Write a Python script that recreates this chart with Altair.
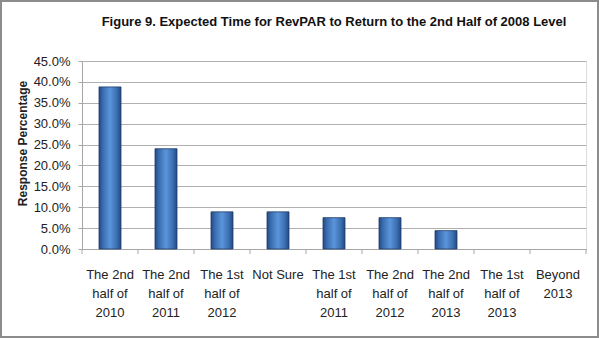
import altair as alt
import pandas as pd

title_text = "Figure 9. Expected Time for RevPAR to Return to the 2nd Half of 2008 Level"
categories = [
    "The 2nd|half of|2010",
    "The 2nd|half of|2011",
    "The 1st|half of|2012",
    "Not Sure",
    "The 1st|half of|2011",
    "The 2nd|half of|2012",
    "The 2nd|half of|2013",
    "The 1st|half of|2013",
    "Beyond|2013",
]
values = [0.388, 0.240, 0.089, 0.089, 0.075, 0.075, 0.044, 0.0, 0.0]
y_ticks = [0.0, 0.05, 0.10, 0.15, 0.20, 0.25, 0.30, 0.35, 0.40, 0.45]

df = pd.DataFrame({"cat": categories, "val": values})
one = pd.DataFrame({"t": [title_text]})

W, H = 504, 188
PL, PT = 82, 61
FONT = "Liberation Sans"

grad = alt.Gradient(
    gradient="linear",
    stops=[
        alt.GradientStop(color="#234a80", offset=0),
        alt.GradientStop(color="#3a6db0", offset=0.18),
        alt.GradientStop(color="#5b95da", offset=0.5),
        alt.GradientStop(color="#3a6db0", offset=0.82),
        alt.GradientStop(color="#234a80", offset=1),
    ],
    x1=0, x2=1, y1=0, y2=0,
)

x_enc = alt.X(
    "cat:N",
    sort=categories,
    scale=alt.Scale(paddingInner=0, paddingOuter=0),
    axis=alt.Axis(
        title=None,
        labelAngle=0,
        labelExpr="split(datum.value, '|')",
        labelFont=FONT,
        labelFontSize=13,
        labelColor="#222222",
        labelLineHeight=19,
        labelPadding=19,
        labelBaseline="top",
        ticks=False,
        domainColor="#a6a6a6",
        grid=False,
    ),
)

y_enc = alt.Y(
    "val:Q",
    scale=alt.Scale(domain=[0, 0.45], nice=False, zero=True),
    axis=alt.Axis(
        values=y_ticks,
        format=".1%",
        title="Response Percentage",
        titleFont=FONT,
        titleFontSize=12,
        titleFontWeight="bold",
        titleColor="#222222",
        titleX=-60,
        titleY=82,
        titleAngle=-90,
        titleAlign="center",
        titleBaseline="middle",
        labelFont=FONT,
        labelFontSize=13,
        labelColor="#222222",
        labelPadding=8,
        tickSize=4,
        tickColor="#a6a6a6",
        domainColor="#a6a6a6",
        gridColor="#b0b0b0",
        grid=True,
    ),
)

bars = alt.Chart(df).transform_filter("datum.val > 0").mark_bar(
    size=22, color=grad, stroke="#1f3e6b", strokeWidth=0.8
).encode(x=x_enc, y=y_enc)

ticks = alt.Chart(df).mark_rule(color="#a6a6a6").encode(
    x=alt.X("cat:N", sort=categories, bandPosition=0),
    y=alt.value(H),
    y2=alt.value(H + 5),
)
end_tick = alt.Chart(one).mark_rule(color="#a6a6a6").encode(
    x=alt.value(W), y=alt.value(H), y2=alt.value(H + 5)
)

title = alt.Chart(one).mark_text(
    font=FONT, fontSize=13, fontWeight="bold", color="#111111",
    align="center", baseline="middle",
).encode(text="t:N", x=alt.value(W / 2), y=alt.value(22 - PT))

border = alt.Chart(one).mark_rect(
    fill=None, stroke="#8c8c8c", strokeWidth=2
).encode(
    x=alt.value(-PL + 1), x2=alt.value(599 - PL - 1),
    y=alt.value(-PT + 1), y2=alt.value(338 - PT - 1),
)

chart = alt.layer(bars, ticks, end_tick, title, border).properties(
    width=W,
    height=H,
    autosize=alt.AutoSizeParams(type="none"),
    padding={"left": PL, "top": PT, "right": 599 - PL - W, "bottom": 338 - PT - H},
).configure_view(stroke=None).configure(background="white")

chart.save("out.html", embed_options={"renderer": "svg", "actions": False})
